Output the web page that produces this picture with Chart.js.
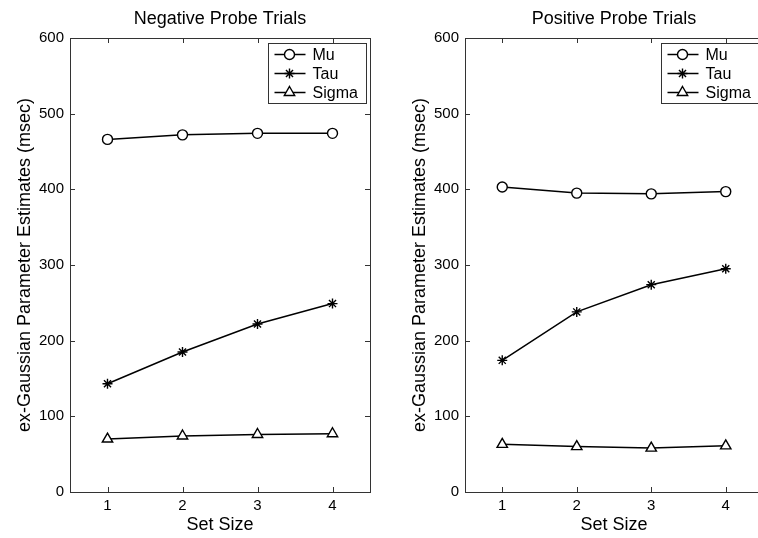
<!DOCTYPE html>
<html>
<head>
<meta charset="utf-8">
<script src="https://cdn.jsdelivr.net/npm/chart.js@4/dist/chart.umd.min.js"></script>
<style>
  html, body { margin: 0; padding: 0; background: #fff; overflow: hidden; width: 758px; height: 538px; }
  #leftChart { position: absolute; left: 0; top: 0; }
  #rightChart { position: absolute; left: 380px; top: 0; }
</style>
</head>
<body>
<canvas id="leftChart" width="380" height="538"></canvas>
<canvas id="rightChart" width="395" height="538"></canvas>
<script>
// data
const setSizes = [1, 2, 3, 4];
const yTicks = [0, 100, 200, 300, 400, 500, 600];
const seriesNames = ['Mu', 'Tau', 'Sigma'];

const negMu = [466, 472, 474, 474];
const negTau = [143, 185, 222, 249];
const negSigma = [70, 74, 76, 77];

const posMu = [403, 395, 394, 397];
const posTau = [174, 238, 274, 295];
const posSigma = [63, 60, 58, 61];

const FONT = '"Liberation Sans", Arial, sans-serif';

function points(vals) {
    return setSizes.map((x, i) => ({ x: x, y: vals[i] }));
}

function makeDatasets(mu, tau, sigma) {
    const common = { borderColor: '#000', borderWidth: 1.5, pointBorderColor: '#000', pointBorderWidth: 1.4, showLine: true };
    return [
        Object.assign({ label: seriesNames[0], data: points(mu), pointStyle: 'circle', pointRadius: 5, pointBackgroundColor: '#fff' }, common),
        Object.assign({ label: seriesNames[1], data: points(tau), pointStyle: 'star', pointRadius: 5, pointBackgroundColor: '#000' }, common),
        Object.assign({ label: seriesNames[2], data: points(sigma), pointStyle: 'triangle', pointRadius: 6, pointBackgroundColor: '#fff' }, common)
    ];
}

// box around plot area + inward ticks, matlab style
const frameTicks = {
    id: 'frameTicks',
    beforeDatasetsDraw(chart) {
        const { ctx, chartArea: a, scales } = chart;
        ctx.save();
        ctx.strokeStyle = '#333';
        ctx.lineWidth = 1;
        ctx.strokeRect(a.left + 0.5, a.top + 0.5, a.right - a.left, a.bottom - a.top);
        ctx.beginPath();
        scales.y.ticks.forEach(t => {
            const py = Math.round(scales.y.getPixelForValue(t.value)) + 0.5;
            ctx.moveTo(a.left, py); ctx.lineTo(a.left + 5, py);
            ctx.moveTo(a.right, py); ctx.lineTo(a.right - 5, py);
        });
        scales.x.ticks.forEach(t => {
            const px = Math.round(scales.x.getPixelForValue(t.value)) + 0.5;
            ctx.moveTo(px, a.bottom); ctx.lineTo(px, a.bottom - 5);
            ctx.moveTo(px, a.top); ctx.lineTo(px, a.top + 5);
        });
        ctx.stroke();
        ctx.restore();
    }
};

// legend box in the top right corner with line + marker samples
const boxLegend = {
    id: 'boxLegend',
    afterDraw(chart) {
        const { ctx, chartArea: a } = chart;
        const w = 98, h = 60;
        const x0 = Math.round(a.right - 4 - w) + 0.5, y0 = Math.round(a.top + 5) + 0.5;
        ctx.save();
        ctx.fillStyle = '#fff';
        ctx.fillRect(x0, y0, w, h);
        ctx.strokeStyle = '#333';
        ctx.lineWidth = 1;
        ctx.strokeRect(x0, y0, w, h);
        ctx.font = '16px ' + FONT;
        ctx.textBaseline = 'middle';
        chart.data.datasets.forEach((ds, i) => {
            const y = y0 + 11 + i * 19;
            ctx.strokeStyle = '#000';
            ctx.lineWidth = ds.borderWidth;
            ctx.beginPath();
            ctx.moveTo(x0 + 6, y); ctx.lineTo(x0 + 37, y);
            ctx.stroke();
            ctx.fillStyle = ds.pointBackgroundColor;
            ctx.lineWidth = ds.pointBorderWidth;
            Chart.helpers.drawPoint(ctx, { pointStyle: ds.pointStyle, radius: ds.pointRadius, rotation: 0, borderWidth: ds.pointBorderWidth }, x0 + 21, y);
            ctx.fillStyle = '#000';
            ctx.fillText(ds.label, x0 + 44, y + 1);
        });
        ctx.restore();
    }
};

function makeChart(id, title, datasets, axisWidth, padRight, yTitlePad) {
    return new Chart(document.getElementById(id), {
        type: 'scatter',
        data: { datasets: datasets },
        options: {
            responsive: false,
            animation: false,
            devicePixelRatio: 1,
            layout: { padding: { left: 0, right: padRight, top: 0, bottom: 0 } },
            plugins: {
                legend: { display: false },
                tooltip: { enabled: false },
                title: {
                    display: true,
                    text: title,
                    fullSize: false,
                    color: '#000',
                    font: { family: FONT, size: 18, weight: 'normal' },
                    padding: { top: 8, bottom: 8.4 }
                }
            },
            scales: {
                x: {
                    type: 'linear',
                    min: 0.5,
                    max: 4.5,
                    grid: { display: false, drawTicks: false },
                    border: { display: false },
                    afterBuildTicks: s => { s.ticks = setSizes.map(v => ({ value: v })); },
                    afterFit: s => { s.height = 46; },
                    ticks: { color: '#000', padding: 5, font: { family: FONT, size: 15 } },
                    title: { display: true, text: 'Set Size', color: '#000', font: { family: FONT, size: 18 }, padding: { top: 0, bottom: 2 } }
                },
                y: {
                    min: 0,
                    max: 600,
                    grid: { display: false, drawTicks: false },
                    border: { display: false },
                    afterBuildTicks: s => { s.ticks = yTicks.map(v => ({ value: v })); },
                    afterFit: s => { s.width = axisWidth; },
                    ticks: { color: '#000', padding: 6, font: { family: FONT, size: 15 } },
                    title: { display: true, text: 'ex-Gaussian Parameter Estimates (msec)', color: '#000', font: { family: FONT, size: 18 }, padding: { top: yTitlePad, bottom: 0 } }
                }
            }
        },
        plugins: [frameTicks, boxLegend]
    });
}

makeChart('leftChart', 'Negative Probe Trials', makeDatasets(negMu, negTau, negSigma), 70, 10, 14);
makeChart('rightChart', 'Positive Probe Trials', makeDatasets(posMu, posTau, posSigma), 85, 12, 29);
</script>
</body>
</html>
